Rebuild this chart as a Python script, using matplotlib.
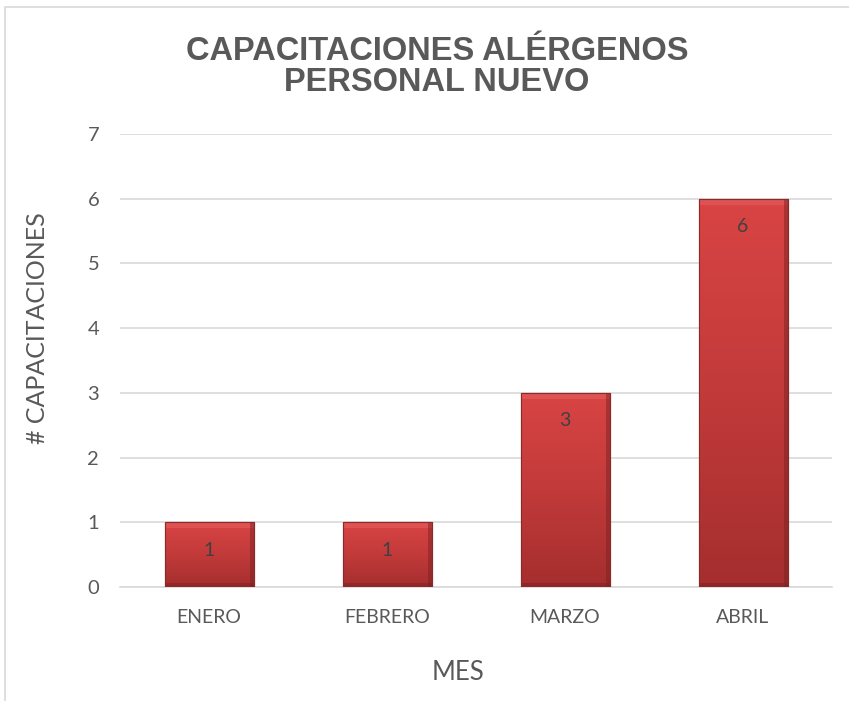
import matplotlib
matplotlib.use("Agg")
import matplotlib.pyplot as plt
import numpy as np
from matplotlib.patches import Rectangle
from matplotlib.colors import LinearSegmentedColormap

categories = ["ENERO", "FEBRERO", "MARZO", "ABRIL"]
values = [1, 1, 3, 6]
yticks = [0, 1, 2, 3, 4, 5, 6, 7]
title = "CAPACITACIONES ALÉRGENOS\nPERSONAL NUEVO"
xlabel = "MES"
ylabel = "# CAPACITACIONES"

W, H = 849, 701
fig = plt.figure(figsize=(W / 100, H / 100), dpi=100)
fig.patch.set_facecolor("white")

# chart border
fig.add_artist(Rectangle((5 / W, -0.02), 1.05, 1 - 7 / H + 0.02, transform=fig.transFigure,
                         fill=False, edgecolor="#d9d9d9", lw=1.2))

ax = fig.add_axes([120 / W, 1 - 587 / H, (832 - 120) / W, (587 - 134) / H])
ax.set_xlim(-0.5, len(categories) - 0.5)
ax.set_ylim(0, 7)

x = np.arange(len(categories))
bars = ax.bar(x, values, width=0.5, color="#c43b3b", edgecolor="#8f2a2a", lw=0.8, zorder=3)

cmap = LinearSegmentedColormap.from_list("r", ["#a52e2e", "#c23a3a", "#d94444"])
grad = np.linspace(0, 1, 256).reshape(-1, 1)
for b in bars:
    x0, w, h = b.get_x(), b.get_width(), b.get_height()
    im = ax.imshow(grad, cmap=cmap, extent=[x0, x0 + w, 0, h], origin="lower",
                   aspect="auto", zorder=3.5)
    im.set_clip_path(b)
    # bevel highlights
    ax.add_patch(Rectangle((x0, h - 0.09), w, 0.09, facecolor="#e66060", alpha=0.55,
                           edgecolor="none", zorder=3.6))
    ax.add_patch(Rectangle((x0, 0), w, 0.06, facecolor="#7d2222", alpha=0.5,
                           edgecolor="none", zorder=3.6))
    ax.add_patch(Rectangle((x0 + w - 0.02, 0), 0.02, h, facecolor="#7d2222", alpha=0.5,
                           edgecolor="none", zorder=3.6))
    ax.add_patch(Rectangle((x0, 0), w, h, fill=False, edgecolor="#8a2a2a", lw=0.8, zorder=3.7))
    ax.text(x0 + w / 2, h - 0.43, str(int(h)), ha="center", va="center", fontsize=14,
            family="Lato", color="#404040", zorder=4)

ax.set_xlim(-0.5, len(categories) - 0.5)
ax.set_ylim(0, 7)
ax.set_yticks(yticks)
ax.set_xticks(x)
ax.set_xticklabels(categories, family="Lato", fontsize=14, color="#595959")
for t in ax.get_yticklabels():
    t.set_family("Lato"); t.set_fontsize(14.5); t.set_color("#595959")
ax.tick_params(axis="both", length=0)
ax.tick_params(axis="x", pad=16)
ax.tick_params(axis="y", pad=15)
ax.grid(axis="y", color="#d9d9d9", lw=1.2, zorder=0)
for s in ["top", "right", "left"]:
    ax.spines[s].set_visible(False)
ax.spines["bottom"].set_color("#d9d9d9")
ax.spines["bottom"].set_linewidth(1.2)

fig.text(437 / W, 1 - 67 / H, title, ha="center", va="center", fontsize=23.5,
         fontweight="bold", family="Liberation Sans", color="#595959", linespacing=1.0)
fig.text(458 / W, 1 - 672 / H, xlabel, ha="center", va="center", fontsize=18.5,
         family="Lato", color="#595959")
fig.text(38 / W, 1 - 328 / H, ylabel, ha="center", va="center", fontsize=18,
         family="Lato", color="#595959", rotation=90)

fig.savefig("out.png", dpi=100)
